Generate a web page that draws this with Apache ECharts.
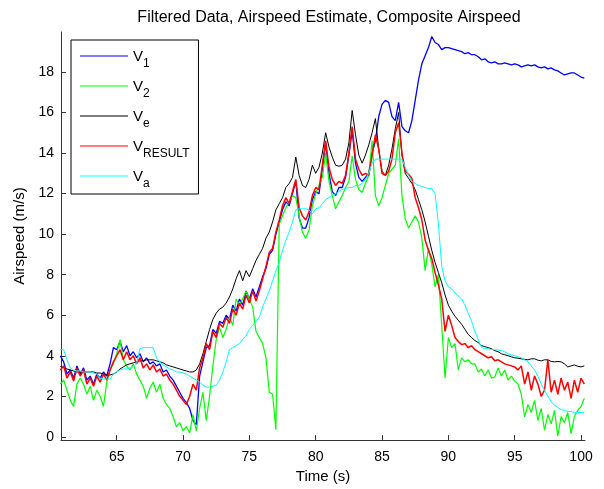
<!DOCTYPE html>
<html><head><meta charset="utf-8">
<script src="https://cdn.jsdelivr.net/npm/echarts@6/dist/echarts.min.js"></script>
<style>html,body{margin:0;padding:0;background:#fff}#c{width:604px;height:489px}</style>
</head><body><div id="c"></div>
<script>
const time = [60.75,
61,61.25,61.5,61.75, 62,62.25,62.5,62.75, 63,63.25,63.5,63.75, 64,64.25,64.5,64.75,
65,65.25,65.5,65.75, 66,66.25,66.5,66.75, 67,67.25,67.5,67.75, 68,68.25,68.5,68.75,
69,69.25,69.5,69.75, 70,70.25,70.5,70.75, 71,71.25,71.5,71.75, 72,72.25,72.5,72.75,
73,73.25,73.5,73.75, 74,74.25,74.5,74.75, 75,75.25,75.5,75.75, 76,76.25,76.5,76.75,
77,77.25,77.5,77.75, 78,78.25,78.5,78.75, 79,79.25,79.5,79.75, 80,80.25,80.5,80.75,
81,81.25,81.5,81.75, 82,82.25,82.5,82.75, 83,83.25,83.5,83.75, 84,84.25,84.5,84.75,
85,85.25,85.5,85.75, 86,86.25,86.5,86.75, 87,87.25,87.5,87.75, 88,88.25,88.5,88.75,
89,89.25,89.5,89.75, 90,90.25,90.5,90.75, 91,91.25,91.5,91.75, 92,92.25,92.5,92.75,
93,93.25,93.5,93.75, 94,94.25,94.5,94.75, 95,95.25,95.5,95.75, 96,96.25,96.5,96.75,
97,97.25,97.5,97.75, 98,98.25,98.5,98.75, 99,99.25,99.5,99.75, 100,100.25];

const v1 = [4.0,
3.7,3.1,3.3,2.9, 3.5,3.1,3.4,2.8, 3.0,2.6,3.1,2.9, 3.2,3.0,3.6,4.4,
4.3,4.7,4.2,4.5, 4.0,4.2,3.9,4.1, 3.7,3.9,3.6,3.7, 3.5,3.6,3.2,3.3,
3.0,2.8,2.5,2.2, 1.9,1.7,1.4,0.8, 0.6,3.0,3.7,4.4, 4.5,5.3,5.1,5.7,
5.6,6.0,5.8,6.5, 6.2,6.8,6.5,7.2, 6.8,7.3,6.9,7.4, 7.9,8.3,9.0,9.2,
10.0,10.6,11.2,11.6, 11.4,12.0,12.6,10.8, 10.3,10.3,10.8,11.7, 12.1,12.0,13.2,14.5,
13.0,12.1,11.9,12.3, 12.3,12.8,13.9,15.1, 13.5,12.8,12.6,12.8, 13.0,14.0,14.6,15.8,
16.4,16.6,16.5,15.8, 15.6,16.5,15.3,15.1, 15.0,15.6,16.6,17.6, 18.4,18.8,19.2,19.75,
19.45,19.35,19.1,19.2, 19.2,19.15,19.1,19.05, 19.0,18.9,18.95,18.85, 18.85,18.75,18.6,18.65,
18.5,18.45,18.5,18.4, 18.4,18.45,18.4,18.35, 18.4,18.35,18.25,18.3, 18.35,18.3,18.35,18.25,
18.2,18.25,18.15,18.2, 18.1,18.05,17.95,17.85, 17.9,17.95,17.95,17.85, 17.75,17.7];

const v2 = [2.6,
2.8,2.3,1.8,1.5, 2.6,2.9,2.6,2.1, 2.5,1.8,2.3,2.0, 1.5,2.7,3.3,3.6,
4.1,4.8,3.8,3.5, 3.3,3.6,3.1,2.8, 2.5,1.9,2.4,2.7, 2.2,2.6,1.9,1.6,
1.4,1.0,0.5,0.7, 0.3,0.5,0.2,1.1, 0.3,1.4,2.2,0.8, 2.0,3.5,4.8,5.4,
4.9,5.3,5.9,5.5, 6.8,6.5,6.8,7.2, 6.8,6.4,5.2,4.9, 4.6,3.9,2.2,2.1,
0.35,10.5,10.9,11.3, 11.6,11.9,11.8,10.9, 10.1,9.8,10.2,11.4, 12.0,12.4,12.8,14.0,
12.6,11.9,11.25,11.6, 11.9,12.3,12.6,13.85, 12.7,12.2,12.05,12.5, 12.9,14.6,11.9,11.4,
11.8,12.4,13.0,13.2, 13.4,14.7,11.9,10.75, 10.3,10.6,10.9,10.6, 9.8,8.2,9.3,8.5,
7.4,8.0,5.5,2.9, 4.9,4.4,4.6,3.3, 3.9,3.7,3.8,3.6, 3.6,3.2,3.35,3.0,
3.3,2.9,2.95,3.4, 3.0,3.3,2.8,3.0, 2.75,2.6,2.1,0.98, 1.6,1.2,1.8,0.8,
1.4,0.33,1.1,0.64, 1.3,0.05,1.0,0.7, 1.2,0.16,1.0,1.3, 1.5,1.9];

const ve = [3.47,
3.4,3.35,3.3,3.25, 3.2,3.2,3.2,3.2, 3.2,3.2,3.15,3.15, 3.1,3.05,3.05,3.1,
3.2,3.35,3.45,3.55, 3.6,3.65,3.7,3.75, 3.75,3.8,3.8,3.8, 3.75,3.7,3.65,3.55,
3.5,3.45,3.4,3.35, 3.3,3.25,3.2,3.2, 3.3,3.6,4.1,4.7, 5.3,5.8,6.1,6.3,
6.4,6.6,6.9,7.3, 7.8,8.2,7.7,8.2, 7.9,8.3,8.7,9.0, 9.3,9.8,10.1,10.6,
11.2,11.5,11.8,12.3, 12.5,12.8,13.8,12.9, 12.4,12.3,12.7,13.4, 13.0,13.3,14.0,15.0,
14.3,13.8,13.4,13.35, 13.4,13.7,14.5,16.1, 14.9,13.9,13.5,13.9, 14.4,15.0,15.7,14.2,
13.1,12.9,13.4,14.2, 15.2,16.0,13.9,13.0, 12.75,12.5,12.2,11.7, 11.2,10.6,9.9,9.2,
8.6,8.1,7.6,7.0, 6.5,6.2,5.95,5.75, 5.55,5.3,5.05,4.9, 4.75,4.65,4.5,4.45,
4.4,4.35,4.25,4.2, 4.1,4.05,4.0,3.95, 3.9,3.88,3.85,3.82, 3.8,3.85,3.85,3.78,
3.75,3.8,3.8,3.72, 3.7,3.72,3.7,3.6, 3.45,3.5,3.55,3.48, 3.45,3.5];

const vResult = [3.3,
3.5,2.9,3.2,2.75, 3.4,3.0,3.3,2.6, 2.9,2.5,3.0,2.7, 3.1,2.8,3.3,3.7,
4.0,4.3,3.8,4.2, 3.8,4.0,3.6,3.9, 3.4,3.6,3.3,3.55, 3.2,3.35,3.0,3.1,
2.8,2.6,2.3,2.0, 1.8,1.6,2.0,2.6, 2.3,3.4,3.9,4.6, 4.3,5.2,4.9,5.6,
5.4,5.9,5.6,6.3, 6.0,6.6,6.3,7.0, 6.6,7.2,6.7,7.2, 7.8,8.4,9.1,9.3,
10.1,10.7,11.4,11.8, 11.5,12.1,12.7,11.3, 10.9,10.7,11.1,11.9, 12.3,12.2,13.4,14.6,
13.3,12.7,12.4,12.6, 12.5,12.9,14.0,15.3, 13.7,13.2,12.9,13.0, 12.9,13.9,14.9,14.2,
13.0,12.9,13.1,13.7, 15.0,15.5,14.0,13.1, 12.95,12.75,11.8,11.3, 10.7,9.7,9.2,8.8,
8.1,7.5,6.8,5.2, 6.0,5.5,4.9,4.7, 4.55,4.6,4.4,4.5, 4.3,4.2,4.1,4.0,
3.9,3.95,3.75,3.8, 3.7,3.6,3.55,3.5, 3.45,3.3,3.5,2.6, 3.2,2.3,3.0,2.6,
2.0,2.3,3.8,2.2, 2.8,2.1,2.9,2.3, 2.7,1.9,2.8,2.2, 2.9,2.6];

const va = [4.3,
4.3,3.8,3.4,3.3, 3.25,3.25,3.2,3.2, 3.2,3.15,3.1,2.9, 2.85,2.85,2.85,3.1,
3.2,3.3,3.35,3.35, 3.4,3.45,3.6,4.35, 4.4,4.4,4.4,4.4, 3.9,3.7,3.55,3.45,
3.35,3.3,3.2,3.2, 3.15,3.1,3.0,2.9, 2.8,2.7,2.55,2.45, 2.45,2.5,2.55,2.8,
3.2,3.7,4.3,4.4, 4.5,4.6,4.8,5.0, 5.3,5.5,5.7,5.9, 6.4,6.8,7.2,7.7,
8.2,8.6,9.2,9.7, 10.1,10.6,11.2,11.25, 11.25,11.25,11.2,11.0, 11.25,11.3,11.5,11.7,
11.8,11.9,12.0,12.1, 12.2,12.25,12.3,12.3, 12.4,12.4,12.5,12.7, 13.0,13.5,13.7,13.7,
13.7,13.7,13.7,13.7, 13.7,13.7,13.7,13.3, 12.9,12.6,12.5,12.4, 12.35,12.3,12.25,12.25,
12.0,10.5,8.4,7.7, 7.4,7.3,7.1,6.95, 6.8,6.5,6.1,5.7, 5.2,4.8,4.4,4.35,
4.35,4.3,4.3,4.28, 4.25,4.2,4.1,4.05, 4.0,3.95,3.9,3.8, 3.7,3.5,3.3,3.0,
2.6,2.3,2.0,1.75, 1.55,1.45,1.35,1.3, 1.25,1.25,1.2,1.2, 1.2,1.2];

const seriesNames = ['V1', 'V2', 'Ve', 'VRESULT', 'Va'];
const seriesSubs = ['1', '2', 'e', 'RESULT', 'a'];
const seriesColors = ['#0000ff', '#00ff00', '#000000', '#ff0000', '#00ffff'];
const seriesWidths = [1.3, 1.2, 1, 1.5, 1];
const seriesValues = [v1, v2, ve, vResult, va];
const xTicks = [65, 70, 75, 80, 85, 90, 95, 100];
const yTicks = [0, 2, 4, 6, 8, 10, 12, 14, 16, 18];

const FONT = '"Liberation Sans", Arial, sans-serif';
const AXIS_COLOR = '#333333';

const chart = echarts.init(document.getElementById('c'), null, {renderer: 'canvas'});
chart.setOption({
  animation: false,
  backgroundColor: '#ffffff',
  title: {
    text: 'Filtered Data, Airspeed Estimate, Composite Airspeed',
    left: 324, top: 5, textAlign: 'center',
    textStyle: {fontFamily: FONT, fontSize: 16, fontWeight: 'normal', color: '#000'}
  },
  grid: {left: 61, right: 19, top: 32, bottom: 46, containLabel: false},
  legend: {
    orient: 'vertical', left: 71, top: 40,
    padding: [2, 9, 4, 9], itemGap: 2,
    itemWidth: 48, itemHeight: 1, icon: 'rect',
    borderColor: '#000', borderWidth: 1, backgroundColor: '#fff',
    selectedMode: false,
    data: seriesNames,
    formatter: function (name) {
      return '{v|V}{s|' + seriesSubs[seriesNames.indexOf(name)] + '}';
    },
    textStyle: {
      fontFamily: FONT, color: '#000',
      rich: {
        v: {fontFamily: FONT, fontSize: 15, lineHeight: 16, padding: [2, 0, 0, 0], color: '#000'},
        s: {fontFamily: FONT, fontSize: 12, lineHeight: 12, padding: [16, 0, 0, 0], color: '#000'}
      }
    }
  },
  xAxis: {
    type: 'value', min: 60.8, max: 100.3,
    name: 'Time (s)', nameLocation: 'middle', nameGap: 19,
    nameTextStyle: {fontFamily: FONT, fontSize: 15, color: '#000'},
    axisLine: {show: true, onZero: false, lineStyle: {color: AXIS_COLOR, width: 1}},
    axisTick: {show: true, inside: true, length: 5, customValues: xTicks, lineStyle: {color: AXIS_COLOR}},
    axisLabel: {show: true, customValues: xTicks, margin: 10, fontFamily: FONT, fontSize: 14, color: '#000'},
    splitLine: {show: false}
  },
  yAxis: {
    type: 'value', min: -0.16, max: 19.97,
    name: 'Airspeed (m/s)', nameLocation: 'middle', nameGap: 25, nameRotate: 90,
    nameTextStyle: {fontFamily: FONT, fontSize: 15, color: '#000'},
    axisLine: {show: true, onZero: false, lineStyle: {color: AXIS_COLOR, width: 1}},
    axisTick: {show: true, inside: true, length: 5, customValues: yTicks, lineStyle: {color: AXIS_COLOR}},
    axisLabel: {show: true, customValues: yTicks, margin: 7, fontFamily: FONT, fontSize: 14, color: '#000'},
    splitLine: {show: false}
  },
  series: seriesNames.map(function (name, k) {
    return {
      name: name, type: 'line',
      data: time.map(function (t, i) { return [t, seriesValues[k][i]]; }),
      showSymbol: false, symbol: 'none', smooth: false,
      lineStyle: {color: seriesColors[k], width: seriesWidths[k]},
      itemStyle: {color: seriesColors[k]},
      z: 2 + k
    };
  })
});
</script>
</body></html>
